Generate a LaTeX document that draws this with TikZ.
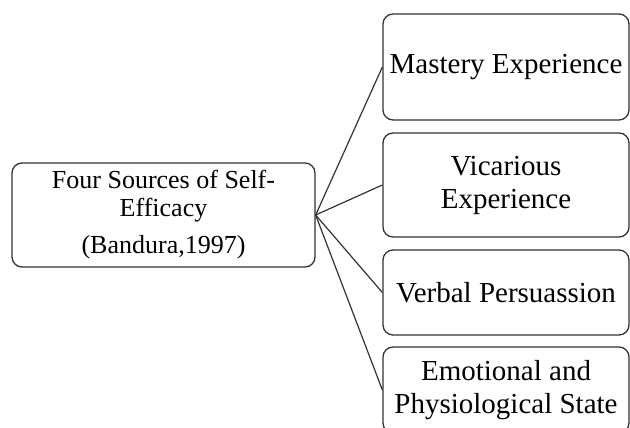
\documentclass[tikz,border=0pt]{standalone}
\usepackage{fontspec}
\setmainfont{Liberation Serif}
\begin{document}
\begin{tikzpicture}[x=1pt,y=-1pt,
  box/.style={draw=black!80, line width=1.3pt, rounded corners=10pt, align=center, inner sep=0pt, anchor=center},
  rbox/.style={box, minimum width=246pt, font=\fontsize{29}{33}\selectfont},
  lbox/.style={box, minimum width=303pt, minimum height=104pt, font=\fontsize{26}{28}\selectfont},
  link/.style={draw=black!80, line width=1.2pt}]
\useasboundingbox (0,0) rectangle (630,428);
\clip (0,0) rectangle (630,428);
\fill[white] (0,0) rectangle (630,428);
\node[lbox] (src) at (163.5,215) {Four Sources of Self-\\Efficacy\\[9pt](Bandura,1997)};
\node[rbox, minimum height=106pt] (m) at (506,67) {Mastery Experience};
\node[rbox, minimum height=104pt] (v) at (506,185) {Vicarious\\Experience};
\node[rbox, minimum height=85pt] (p) at (506,292.5) {Verbal Persuassion};
\node[rbox, minimum height=86pt] (e) at (506,390) {Emotional and\\Physiological State};
\draw[link] (src.east) -- (m.west);
\draw[link] (src.east) -- (v.west);
\draw[link] (src.east) -- (p.west);
\draw[link] (src.east) -- (e.west);
\end{tikzpicture}
\end{document}
